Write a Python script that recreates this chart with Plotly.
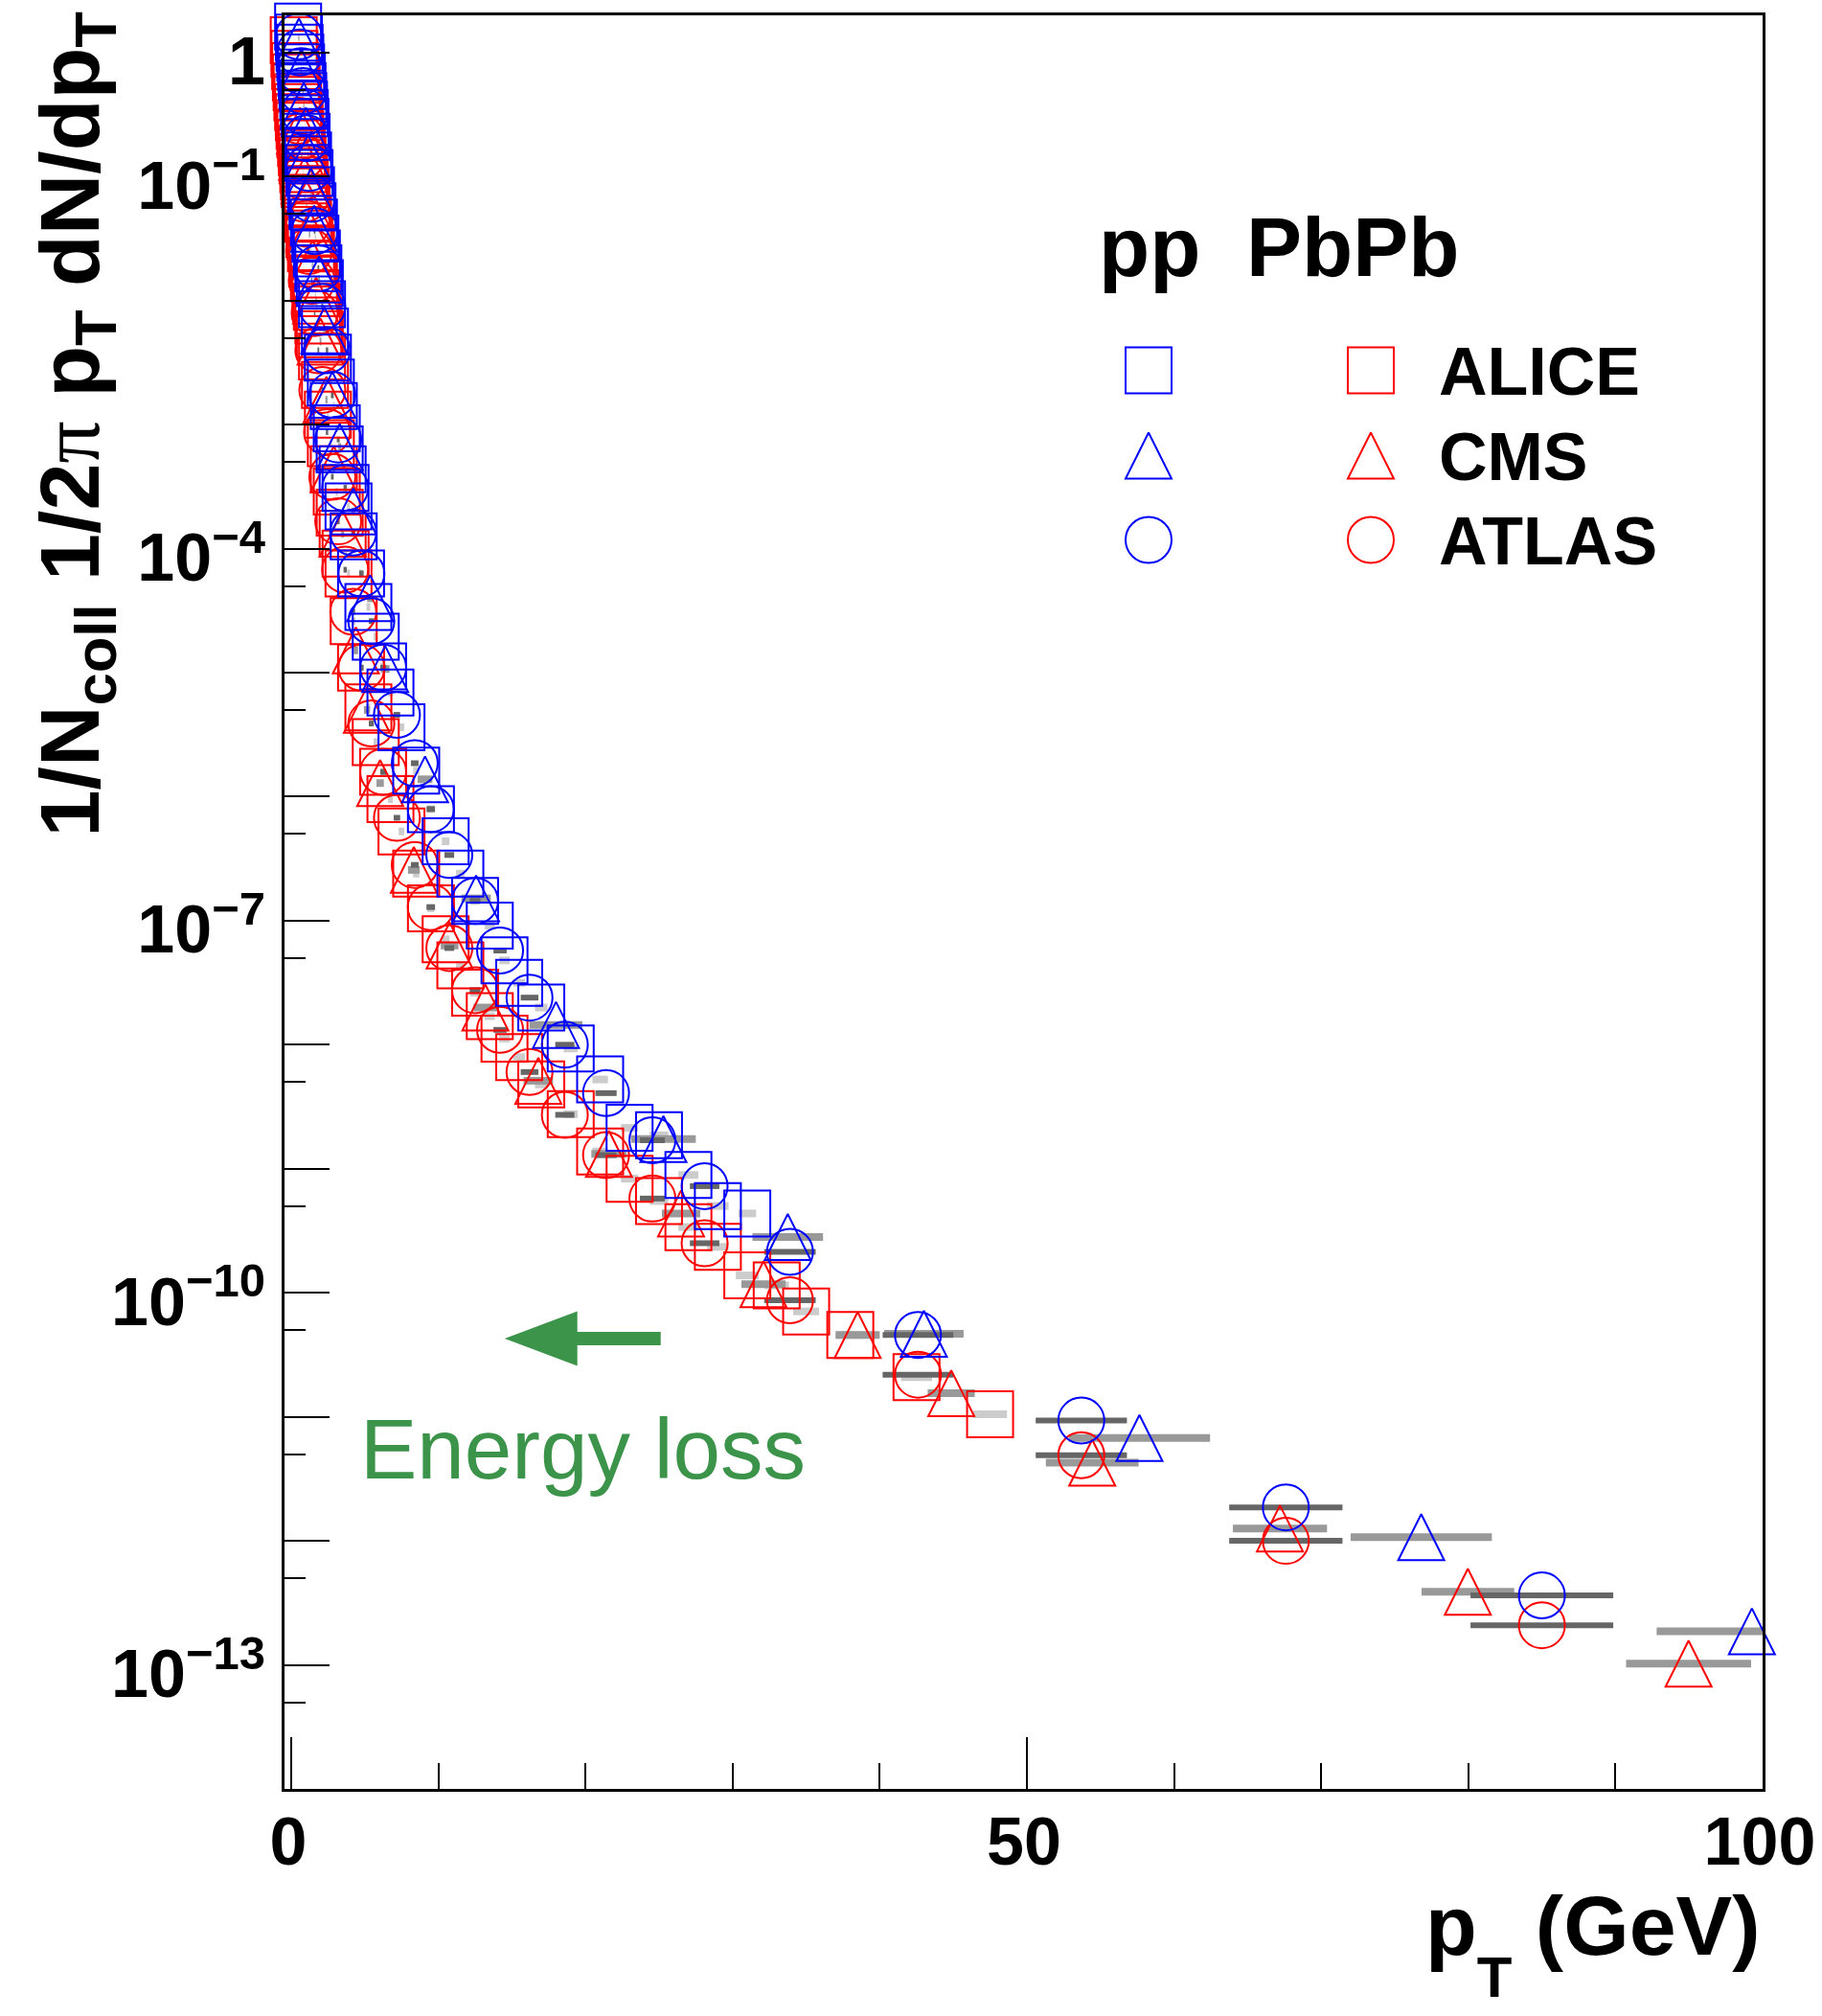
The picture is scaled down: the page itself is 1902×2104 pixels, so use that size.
import plotly.graph_objects as go

# ---------------------------------------------------------------
# Data.
# x = pT (GeV); y values are stored as log10 of 1/Ncoll 1/(2 pi pT) dN/dpT
# ---------------------------------------------------------------

# ALICE pp (blue open squares)
alice_pp_pt = [0.475, 0.525, 0.575, 0.625, 0.675, 0.725, 0.775, 0.825, 0.875, 0.925, 0.975,
               1.05, 1.15, 1.25, 1.35, 1.45, 1.55, 1.65, 1.75, 1.85, 1.95,
               2.1, 2.3, 2.5, 2.7, 2.9, 3.1, 3.3, 3.5, 3.7, 3.9,
               4.25, 4.75, 5.25, 5.75, 6.25, 6.75,
               7.5, 8.5, 9.5, 10.5, 11.5, 12.5, 13.5, 14.5, 15.5,
               17, 19, 21, 23, 25, 27, 29, 31]
alice_pp_log10 = [0.21, 0.12, 0.04, -0.04, -0.12, -0.19, -0.27, -0.35, -0.42, -0.49, -0.56,
                  -0.68, -0.83, -0.97, -1.11, -1.24, -1.37, -1.50, -1.62, -1.74, -1.86,
                  -2.03, -2.25, -2.46, -2.66, -2.85, -3.03, -3.20, -3.36, -3.51, -3.66,
                  -3.90, -4.20, -4.47, -4.71, -4.95, -5.16,
                  -5.44, -5.79, -6.10, -6.36, -6.62, -6.84, -7.04, -7.32, -7.50,
                  -7.70, -8.03, -8.28, -8.67, -8.73, -9.05, -9.30, -9.36]
alice_pp_xerr = [0.012, 0.013, 0.014, 0.016, 0.017, 0.018, 0.019, 0.021, 0.022, 0.023, 0.024,
                 0.026, 0.029, 0.031, 0.034, 0.036, 0.039, 0.041, 0.044, 0.046, 0.049,
                 0.05, 0.06, 0.06, 0.07, 0.07, 0.08, 0.08, 0.09, 0.09, 0.10,
                 0.11, 0.12, 0.13, 0.14, 0.16, 0.17,
                 0.19, 0.21, 0.24, 0.26, 0.29, 0.31, 0.34, 0.36, 0.39,
                 0.43, 0.48, 0.53, 0.58, 0.63, 0.68, 0.73, 0.60]

# ALICE PbPb (red open squares)
alice_aa_pt = [0.175, 0.225, 0.275, 0.325, 0.375, 0.425, 0.475, 0.525, 0.575, 0.625, 0.675,
               0.725, 0.775, 0.825, 0.875, 0.925, 0.975,
               1.05, 1.15, 1.25, 1.35, 1.45, 1.55, 1.65, 1.75, 1.85, 1.95,
               2.1, 2.3, 2.5, 2.7, 2.9, 3.1, 3.3, 3.5, 3.7, 3.9,
               4.25, 4.75, 5.25, 5.75, 6.25, 6.75,
               7.5, 8.5, 9.5, 10.5, 11.5, 12.5, 13.5, 14.5, 15.5,
               17, 19, 21, 23, 25, 27, 29, 31,
               33, 35, 38, 42.5, 47.5]
alice_aa_log10 = [0.10, -0.01, -0.11, -0.20, -0.28, -0.36, -0.44, -0.52, -0.59, -0.66, -0.73,
                  -0.80, -0.87, -0.94, -1.00, -1.06, -1.12,
                  -1.22, -1.34, -1.46, -1.58, -1.70, -1.82, -1.94, -2.05, -2.16, -2.27,
                  -2.45, -2.68, -2.92, -3.15, -3.36, -3.54, -3.71, -3.88, -4.04, -4.20,
                  -4.585, -4.96, -5.28, -5.56, -5.80, -6.02,
                  -6.28, -6.62, -6.90, -7.15, -7.36, -7.58, -7.77, -7.95, -8.10,
                  -8.32, -8.56, -8.86, -9.08, -9.26, -9.47, -9.63, -9.86,
                  -9.94, -10.15, -10.34, -10.68, -10.98]
alice_aa_xerr = [0.004, 0.006, 0.007, 0.008, 0.009, 0.011, 0.012, 0.013, 0.014, 0.016, 0.017,
                 0.018, 0.019, 0.021, 0.022, 0.023, 0.024,
                 0.026, 0.029, 0.031, 0.034, 0.036, 0.039, 0.041, 0.044, 0.046, 0.049,
                 0.05, 0.06, 0.06, 0.07, 0.07, 0.08, 0.08, 0.09, 0.09, 0.10,
                 0.11, 0.12, 0.13, 0.14, 0.16, 0.17,
                 0.19, 0.21, 0.24, 0.26, 0.29, 0.31, 0.34, 0.36, 0.39,
                 0.43, 0.48, 0.53, 0.58, 0.63, 0.68, 0.73, 0.78,
                 0.83, 0.88, 0.95, 1.06, 1.15]

# ATLAS pp (blue open circles) and PbPb (red open circles)
atlas_pt = [0.52, 0.6, 0.7, 0.8, 0.92, 1.06, 1.22, 1.4, 1.6, 1.85,
            2.12, 2.44, 2.8, 3.2, 3.67, 4.22, 4.78, 5.45, 6.26, 7.19,
            8.4, 9.49, 10.75, 12.5, 14.2, 16.2, 18.6, 21.4, 24.55, 28.1,
            33.9, 42.6, 53.7, 67.6, 85.0]
atlas_pp_log10 = [0.13, 0.00, -0.15, -0.31, -0.48, -0.69, -0.93, -1.18, -1.44, -1.74,
                  -2.05, -2.40, -2.76, -3.12, -3.51, -3.87, -4.20, -4.585, -4.96, -5.34,
                  -5.73, -6.10, -6.47, -6.84, -7.24, -7.62, -8.00, -8.39, -8.77, -9.14,
                  -9.67, -10.34, -11.03, -11.73, -12.44]
atlas_aa_log10 = [-0.55, -0.68, -0.84, -1.00, -1.18, -1.38, -1.60, -1.84, -2.10, -2.40,
                  -2.72, -3.06, -3.42, -3.78, -4.17, -4.51, -4.96, -5.41, -5.80, -6.17,
                  -6.55, -6.89, -7.22, -7.56, -7.88, -8.22, -8.565, -8.89, -9.24, -9.60,
                  -10.06, -10.66, -11.31, -12.00, -12.68]
atlas_xerr = [0.02, 0.02, 0.02, 0.03, 0.03, 0.03, 0.04, 0.04, 0.05, 0.06,
              0.07, 0.08, 0.09, 0.10, 0.11, 0.13, 0.15, 0.17, 0.20, 0.22,
              0.26, 0.29, 0.33, 0.37, 0.45, 0.60, 0.65, 0.72, 0.85, 1.00,
              1.75, 2.40, 3.10, 3.85, 4.85]

# CMS pp (blue open triangles)
cms_pp_pt = [0.53, 0.7, 0.86, 1.0, 1.14, 1.35, 1.57, 1.9, 2.26, 2.8, 3.3,
             4.22, 5.37, 6.39, 9.1,
             12.57, 18.0, 25.3, 33.75, 43.0, 57.65, 76.8, 99.27]
cms_pp_log10 = [0.09, -0.16, -0.43, -0.63, -0.85, -1.12, -1.42, -1.83, -2.24, -2.76, -3.18,
                -3.70, -4.40, -4.97, -5.86,
                -6.82, -7.84, -8.76, -9.55, -10.33, -11.17, -11.97, -12.73]
cms_pp_xerr_plus = [0.02, 0.02, 0.03, 0.03, 0.03, 0.04, 0.05, 0.06, 0.07, 0.08, 0.10,
                    0.13, 0.20, 0.30, 0.50,
                    1.00, 1.80, 2.20, 2.40, 2.70, 4.80, 4.80, 0.73]
cms_pp_xerr_minus = [0.02, 0.02, 0.03, 0.03, 0.03, 0.04, 0.05, 0.06, 0.07, 0.08, 0.10,
                     0.13, 0.20, 0.30, 0.50,
                     1.00, 1.80, 2.20, 2.40, 2.70, 4.80, 4.80, 6.47]

# CMS PbPb (red open triangles)
cms_aa_pt = [0.6, 0.75, 0.9, 1.05, 1.25, 1.45, 1.7, 2.0, 2.4, 2.9, 3.5,
             4.4, 5.15, 6.05, 8.34,
             10.77, 13.2, 16.8, 21.6, 26.5, 32.1, 38.5, 44.86, 54.44, 67.2, 79.97, 94.97]
cms_aa_log10 = [-0.63, -0.84, -1.03, -1.22, -1.46, -1.70, -2.00, -2.33, -2.80, -3.36, -3.88,
                -4.82, -5.30, -5.89, -6.59,
                -7.20, -7.70, -8.29, -8.88, -9.36, -9.93, -10.34, -10.81, -11.37, -11.90, -12.41, -12.99]
cms_aa_xerr = [0.02, 0.02, 0.03, 0.03, 0.04, 0.04, 0.05, 0.06, 0.07, 0.09, 0.10,
               0.15, 0.20, 0.25, 0.40,
               0.60, 0.80, 1.00, 1.20, 1.30, 1.50, 1.50, 1.60, 3.15, 3.20, 3.15, 4.25]

# Tick labels
x_tick_vals = [0, 50, 100]
x_tick_text = ["0", "50", "100"]
x_minor_vals = [10, 20, 30, 40, 60, 70, 80, 90]
y_labeled_exps = [0, -1, -4, -7, -10, -13]
y_unlabeled_exps = [-2, -3, -5, -6, -8, -9, -11, -12]

legend_names = ["ALICE", "CMS", "ATLAS"]

# ---------------------------------------------------------------
# Layout constants (pixels)
# ---------------------------------------------------------------
W, H = 1902, 2104
ML, MR, MT, MB = 297, 62, 16, 237
PW, PH = W - ML - MR, H - MT - MB
X_RANGE = [-0.45, 100]
Y_RANGE = [-14.0, 0.3]
MSIZE = 48
PX_PER_DEC = PH / (Y_RANGE[1] - Y_RANGE[0])
TRI_SHIFT = (MSIZE / 2) / PX_PER_DEC  # arrow-up marker has its apex at the point

BLUE = "#0000ff"
RED = "#ff0000"
GREEN = "#3b944a"
LIGHT, MID, DARK = "#cccccc", "#999999", "#666666"
FONT = "Liberation Sans, Arial, Helvetica, sans-serif"


def PX(px):
    return (px - ML) / PW


def PY(py):
    return (MT + PH - py) / PH


def vals(logs):
    return [10 ** v for v in logs]


fig = go.Figure()


def add_bars(pt, logs, plus, minus, color, thick):
    fig.add_trace(go.Scatter(
        x=pt, y=vals(logs), mode="markers",
        marker=dict(size=2, color="rgba(0,0,0,0)"),
        error_x=dict(type="data", symmetric=False, array=plus, arrayminus=minus,
                     color=color, thickness=thick, width=0),
        hoverinfo="skip", showlegend=False, xaxis="x", yaxis="y"))


def add_markers(pt, logs, symbol, color, yaxis):
    fig.add_trace(go.Scatter(
        x=pt, y=vals(logs), mode="markers",
        marker=dict(symbol=symbol, size=MSIZE, color="rgba(0,0,0,0)",
                    line=dict(color=color, width=2)),
        cliponaxis=False, hoverinfo="skip", showlegend=False,
        xaxis="x", yaxis=yaxis))


# grey uncertainty bars (true positions)
add_bars(alice_aa_pt, alice_aa_log10, alice_aa_xerr, alice_aa_xerr, LIGHT, 8)
add_bars(alice_pp_pt, alice_pp_log10, alice_pp_xerr, alice_pp_xerr, LIGHT, 8)
add_bars(cms_aa_pt, cms_aa_log10, cms_aa_xerr, cms_aa_xerr, MID, 8)
add_bars(cms_pp_pt, cms_pp_log10, cms_pp_xerr_plus, cms_pp_xerr_minus, MID, 8)
add_bars(atlas_pt, atlas_aa_log10, atlas_xerr, atlas_xerr, DARK, 6)
add_bars(atlas_pt, atlas_pp_log10, atlas_xerr, atlas_xerr, DARK, 6)

# PbPb markers
add_markers(alice_aa_pt, alice_aa_log10, "square", RED, "y")
add_markers(atlas_pt, atlas_aa_log10, "circle", RED, "y")
add_markers(cms_aa_pt, cms_aa_log10, "arrow-up", RED, "y2")
# pp markers
add_markers(alice_pp_pt, alice_pp_log10, "square", BLUE, "y3")
add_markers(atlas_pt, atlas_pp_log10, "circle", BLUE, "y3")
add_markers(cms_pp_pt, cms_pp_log10, "arrow-up", BLUE, "y4")

# empty trace so the axis carrying the unlabeled decade ticks is created
fig.add_trace(go.Scatter(x=[], y=[], xaxis="x", yaxis="y6", hoverinfo="skip",
                         showlegend=False))

# ---------------- legend (pixel overlay axes) ----------------
leg_x_pp, leg_x_aa = 1199, 1431
leg_rows = [386.5, 475.5, 563.5]
leg_symbols = ["square", "arrow-up", "circle"]
for sym, cy in zip(leg_symbols, leg_rows):
    yy = cy - MSIZE / 2 if sym == "arrow-up" else cy
    for xx, col in ((leg_x_pp, BLUE), (leg_x_aa, RED)):
        fig.add_trace(go.Scatter(
            x=[xx], y=[yy], mode="markers",
            marker=dict(symbol=sym, size=MSIZE, color="rgba(0,0,0,0)",
                        line=dict(color=col, width=2)),
            cliponaxis=False, hoverinfo="skip", showlegend=False,
            xaxis="x2", yaxis="y5"))

annotations = []
for name, cy in zip(legend_names, leg_rows):
    annotations.append(dict(text=name, x=PX(1500), y=PY(cy + 1), xref="paper", yref="paper",
                            xanchor="left", yanchor="middle", showarrow=False,
                            font=dict(family=FONT, size=70, color="black", weight="bold")))
annotations.append(dict(text="pp", x=PX(1145), y=PY(258), xref="paper", yref="paper",
                        xanchor="left", yanchor="middle", showarrow=False,
                        font=dict(family=FONT, size=87, color="black", weight="bold")))
annotations.append(dict(text="PbPb", x=PX(1299), y=PY(258), xref="paper", yref="paper",
                        xanchor="left", yanchor="middle", showarrow=False,
                        font=dict(family=FONT, size=87, color="black", weight="bold")))

# axis titles
pi_span = "<span style='font-family:Liberation Serif;font-weight:normal'>π</span>"
annotations.append(dict(
    text="1/N<sub>coll</sub> 1/2" + pi_span + " p<sub>T</sub> dN/dp<sub>T</sub>",
    x=PX(78), y=PY(11), xref="paper", yref="paper", textangle=-90,
    xanchor="center", yanchor="top", showarrow=False,
    font=dict(family=FONT, size=88, color="black", weight="bold")))
annotations.append(dict(
    text="p<span style='baseline-shift:-44px;font-size:60px'>T</span> (GeV)",
    x=PX(1840), y=PY(2028), xref="paper", yref="paper",
    xanchor="right", yanchor="middle", showarrow=False,
    font=dict(family=FONT, size=88, color="black", weight="bold")))

# energy-loss label
annotations.append(dict(
    text="Energy loss", x=PX(374), y=PY(1512), xref="paper", yref="paper",
    xanchor="left", yanchor="middle", showarrow=False,
    font=dict(family=FONT, size=89, color=GREEN)))

# green arrow (pixel geometry converted to paper units)
tip = (526.8, 1397)
head_x, head_half = 602.7, 28.6
shaft_half, tail_x = 7.0, 689.7
arrow_pts = [tip, (head_x, tip[1] - head_half), (head_x, tip[1] - shaft_half),
             (tail_x, tip[1] - shaft_half), (tail_x, tip[1] + shaft_half),
             (head_x, tip[1] + shaft_half), (head_x, tip[1] + head_half)]
path = "M " + " L ".join(f"{PX(a):.5f},{PY(b):.5f}" for a, b in arrow_pts) + " Z"
shapes = [dict(type="path", xref="paper", yref="paper", path=path,
               fillcolor=GREEN, line=dict(width=0))]

# ---------------- axes ----------------
y_tick_vals = [10.0 ** e for e in y_labeled_exps]
y_tick_text = ["1" if e == 0 else "10<sup>\u2212" + str(-e) + "</sup>" for e in y_labeled_exps]
y_minor_vals = [5.0 * 10.0 ** e for e in range(-1, -15, -1)]

tickfont = dict(family=FONT, size=70, color="black", weight="bold")

fig.update_layout(
    width=W, height=H,
    margin=dict(l=ML, r=MR, t=MT, b=MB, pad=0),
    paper_bgcolor="white", plot_bgcolor="white",
    showlegend=False,
    xaxis=dict(range=X_RANGE, domain=[0, 1], anchor="y",
               tickmode="array", tickvals=x_tick_vals, ticktext=x_tick_text,
               ticks="inside", ticklen=54, tickwidth=2, tickcolor="black",
               minor=dict(tickmode="array", tickvals=x_minor_vals, ticks="inside",
                          ticklen=27, tickwidth=2, tickcolor="black", showgrid=False),
               showline=True, linewidth=3, linecolor="black", mirror=True,
               showgrid=False, zeroline=False, tickfont=tickfont,
               ticklabelstandoff=-8, ticklabelshift=-3, automargin=False),
    yaxis=dict(type="log", range=Y_RANGE, domain=[0, 1], anchor="x",
               tickmode="array", tickvals=y_tick_vals, ticktext=y_tick_text,
               ticks="inside", ticklen=47, tickwidth=2, tickcolor="black",
               minor=dict(tickmode="array", tickvals=y_minor_vals, ticks="inside",
                          ticklen=22, tickwidth=2, tickcolor="black", showgrid=False),
               showline=True, linewidth=3, linecolor="black", mirror=True,
               showgrid=False, zeroline=False, tickfont=tickfont,
               ticklabelstandoff=3, ticklabelshift=9, automargin=False),
    yaxis2=dict(type="log", range=[Y_RANGE[0] - TRI_SHIFT, Y_RANGE[1] - TRI_SHIFT],
                overlaying="y", anchor="x", visible=False),
    yaxis3=dict(type="log", range=Y_RANGE, overlaying="y", anchor="x", visible=False),
    yaxis4=dict(type="log", range=[Y_RANGE[0] - TRI_SHIFT, Y_RANGE[1] - TRI_SHIFT],
                overlaying="y", anchor="x", visible=False),
    xaxis2=dict(range=[ML, ML + PW], overlaying="x", anchor="y5", visible=False),
    yaxis5=dict(range=[MT + PH, MT], overlaying="y", anchor="x2", visible=False),
    yaxis6=dict(type="log", range=Y_RANGE, overlaying="y", anchor="x", side="left",
                tickmode="array", tickvals=[10.0 ** e for e in y_unlabeled_exps],
                ticks="inside", ticklen=47, tickwidth=2, tickcolor="black",
                showticklabels=False, showline=False, showgrid=False, zeroline=False,
                automargin=False),
    annotations=annotations,
    shapes=shapes,
)

fig.write_html("out.html", config={"displayModeBar": False},
               post_script="document.body.style.margin='0px';")
